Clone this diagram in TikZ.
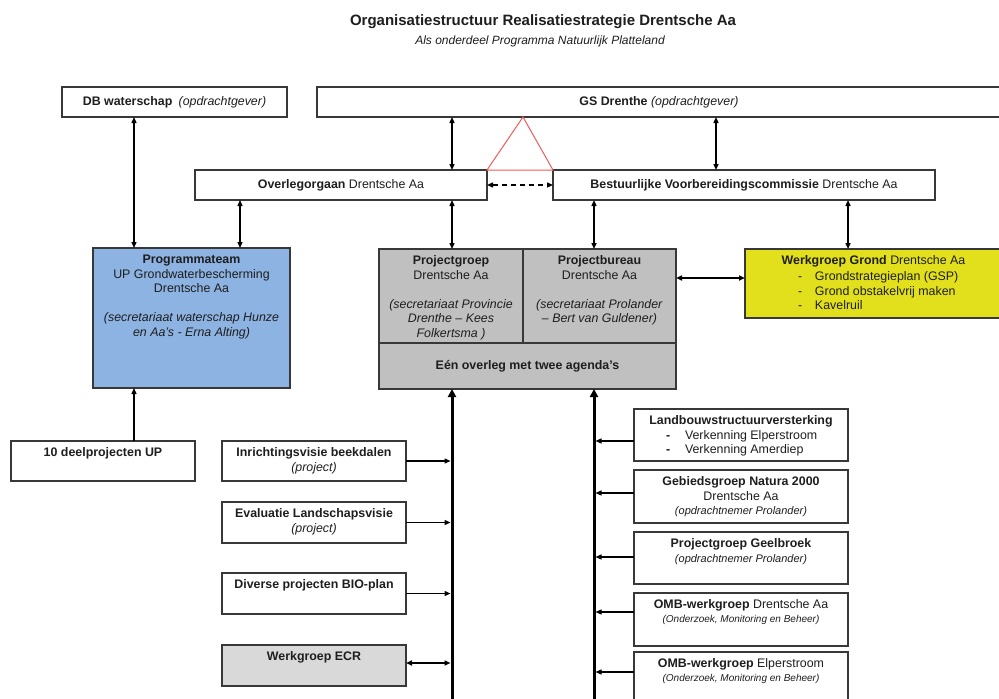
\documentclass[tikz,border=0pt]{standalone}
\usepackage{fontspec}
\setmainfont{Liberation Sans}
\usetikzlibrary{arrows.meta,calc}

\definecolor{progblue}{HTML}{8DB3E2}
\definecolor{pgray}{HTML}{C0C0C0}
\definecolor{ecrgray}{HTML}{D9D9D9}
\definecolor{wgyellow}{HTML}{E2E01C}
\definecolor{trired}{HTML}{F05A5A}
\definecolor{edgegray}{HTML}{383838}
\definecolor{inkcol}{HTML}{1E1E1E}

\tikzset{
  obox/.style={draw=edgegray, line width=1.3pt, inner sep=0pt, outer sep=0pt, anchor=north west},
  txt/.style={inner sep=0pt, outer sep=0pt, align=center, text=inkcol, font=\fontsize{12.4}{14.5}\selectfont},
  lst/.style={inner sep=0pt, outer sep=0pt, align=left, text=inkcol, font=\fontsize{12.4}{14.5}\selectfont},
  conn/.style={line width=1.4pt, {Triangle[length=6pt,width=5pt]}-{Triangle[length=6pt,width=5pt]}},
  onearrow/.style={line width=1.3pt, -{Triangle[length=6pt,width=5pt]}},
  spine/.style={line width=3pt, -{Triangle[length=8pt,width=8pt]}},
}

% box with text at top
\newcommand\tbox[7]{%
  \node[obox,#6,minimum width={#4pt-#2pt},minimum height={#5pt-#3pt}] (#1) at (#2,#3) {};
  \node[txt,anchor=north] (#1-t) at ([yshift=-7pt]#1.north) {#7};}
% box with centred text
\newcommand\cbox[7]{%
  \node[obox,txt,#6,minimum width={#4pt-#2pt},minimum height={#5pt-#3pt},anchor=north west] (#1) at (#2,#3) {#7};}
\newcommand\smit[2]{{\fontsize{#1}{14.5}\selectfont\itshape #2}}

\begin{document}
\begin{tikzpicture}[x=1pt,y=-1pt]
\useasboundingbox (0,0) rectangle (999,699);
\fill[white] (0,0) rectangle (999,699);

% titles
\node[txt,font=\fontsize{15}{18}\selectfont\bfseries] (title) at (543,22) {Organisatiestructuur Realisatiestrategie Drentsche Aa};
\node[txt,font=\fontsize{12}{14}\selectfont\itshape] (subtitle) at (540,41) {Als onderdeel Programma Natuurlijk Platteland};

% top level
\cbox{db}{62}{87}{287}{117}{fill=white}{\textbf{DB waterschap}\enspace\textit{(opdrachtgever)}}
\cbox{gs}{317}{87}{1001}{117}{fill=white}{\textbf{GS Drenthe} \textit{(opdrachtgever)}}
\cbox{ov}{195}{170}{487}{200}{fill=white}{\textbf{Overlegorgaan} Drentsche Aa}
\cbox{bvc}{553}{170}{935}{200}{fill=white}{\textbf{Bestuurlijke Voorbereidingscommissie} Drentsche Aa}

% red triangle
\draw[trired, line width=1pt] (523,117) -- (487,170) -- (553,170) -- cycle;

% middle level
\tbox{prog}{93}{248}{290}{388}{fill=progblue}{\textbf{Programmateam}\\UP Grondwaterbescherming\\Drentsche Aa\\[14.5pt]\textit{(secretariaat waterschap Hunze}\\\textit{en Aa’s - Erna Alting)}}
\tbox{pg}{379}{249}{523}{343}{fill=pgray}{\textbf{Projectgroep}\\Drentsche Aa\\[14.5pt]\textit{(secretariaat Provincie}\\\textit{Drenthe – Kees}\\\textit{Folkertsma )}}
\tbox{pb}{523}{249}{676}{343}{fill=pgray}{\textbf{Projectbureau}\\Drentsche Aa\\[14.5pt]\textit{(secretariaat Prolander}\\\textit{– Bert van Guldener)}}
\cbox{overleg}{379}{343}{676}{389}{fill=pgray}{\textbf{Eén overleg met twee agenda’s}}
\tbox{wg}{745}{249}{1002}{318}{fill=wgyellow}{\textbf{Werkgroep Grond} Drentsche Aa}
\node[lst,anchor=north west] (wg-l) at (798,272) {\makebox[17pt][l]{-}Grondstrategieplan (GSP)\\\makebox[17pt][l]{-}Grond obstakelvrij maken\\\makebox[17pt][l]{-}Kavelruil};

% lower left
\tbox{deel}{11}{441}{195}{481}{fill=white}{\textbf{10 deelprojecten UP}}
\tbox{inr}{222}{441}{406}{481}{fill=white}{\textbf{Inrichtingsvisie beekdalen}\\\textit{(project)}}
\tbox{eval}{222}{502}{406}{543}{fill=white}{\textbf{Evaluatie Landschapsvisie}\\\textit{(project)}}
\tbox{bio}{222}{573}{406}{614}{fill=white}{\textbf{Diverse projecten BIO-plan}}
\tbox{ecr}{222}{645}{406}{686}{fill=ecrgray}{\textbf{Werkgroep ECR}}

% lower right
\tbox{lb}{634}{409}{848}{461}{fill=white}{\textbf{Landbouwstructuurversterking}}
\node[lst,anchor=north west,font=\fontsize{12.4}{13.5}\selectfont] (lb-l) at (666,431) {\makebox[19pt][l]{\textbf{-}}Verkenning Elperstroom\\\makebox[19pt][l]{\textbf{-}}Verkenning Amerdiep};
\tbox{geb}{634}{470}{848}{523}{fill=white}{\textbf{Gebiedsgroep Natura 2000}\\Drentsche Aa\\\smit{11}{(opdrachtnemer Prolander)}}
\tbox{geel}{634}{532}{848}{584}{fill=white}{\textbf{Projectgroep Geelbroek}\\\smit{11}{(opdrachtnemer Prolander)}}
\tbox{omb1}{634}{593}{848}{646}{fill=white}{\textbf{OMB-werkgroep} Drentsche Aa\\[-1pt]\smit{10}{(Onderzoek, Monitoring en Beheer)}}
\tbox{omb2}{634}{652}{848}{712}{fill=white}{\textbf{OMB-werkgroep} Elperstroom\\[-1pt]\smit{10}{(Onderzoek, Monitoring en Beheer)}}

% helper coordinates
\coordinate (xA) at (134,0);
\coordinate (xB) at (240,0);
\coordinate (xC) at (452,0);
\coordinate (xD) at (716,0);
\coordinate (xE) at (594,0);
\coordinate (xF) at (848,0);
\coordinate (yW) at (0,278);
\coordinate (s1) at (452,703);
\coordinate (s2) at (594,703);
\coordinate (r1) at (0,441);
\coordinate (r2) at (0,493);
\coordinate (r3) at (0,557);
\coordinate (r4) at (0,612);
\coordinate (r5) at (0,672);
\coordinate (l4) at (0,663);

% connectors, upper part
\draw[conn] (xA |- db.south) -- (xA |- prog.north);
\draw[conn] (xB |- ov.south) -- (xB |- prog.north);
\draw[conn] (xC |- gs.south) -- (xC |- ov.north);
\draw[conn] (xD |- gs.south) -- (xD |- bvc.north);
\draw[conn] (xC |- ov.south) -- (xC |- pg.north);
\draw[conn] (xE |- bvc.south) -- (xE |- pb.north);
\draw[conn] (xF |- bvc.south) -- (xF |- wg.north);
\draw[conn, dash pattern=on 5pt off 4pt] (ov.east) -- (bvc.west);
\draw[conn, line width=1.8pt] (pb.east |- yW) -- (wg.west |- yW);
\draw[onearrow] (xA |- deel.north) -- (xA |- prog.south);

% spines
\draw[spine] (s1) -- (s1 |- overleg.south);
\draw[spine] (s2) -- (s2 |- overleg.south);

% left feeders
\draw[onearrow, shorten >=1.5pt] (inr.east) -- (inr.east -| s1);
\draw[onearrow, shorten >=1.5pt] (eval.east) -- (eval.east -| s1);
\draw[onearrow, shorten >=1.5pt] (bio.east) -- (bio.east -| s1);
\draw[conn, line width=1.8pt, shorten >=1.5pt] (ecr.east |- l4) -- (s1 |- l4);

% right feeders
\draw[onearrow, shorten >=1.5pt] (lb.west |- r1) -- (s2 |- r1);
\draw[onearrow, shorten >=1.5pt] (geb.west |- r2) -- (s2 |- r2);
\draw[onearrow, shorten >=1.5pt] (geel.west |- r3) -- (s2 |- r3);
\draw[onearrow, shorten >=1.5pt] (omb1.west |- r4) -- (s2 |- r4);
\draw[onearrow, shorten >=1.5pt] (omb2.west |- r5) -- (s2 |- r5);
\end{tikzpicture}
\end{document}
